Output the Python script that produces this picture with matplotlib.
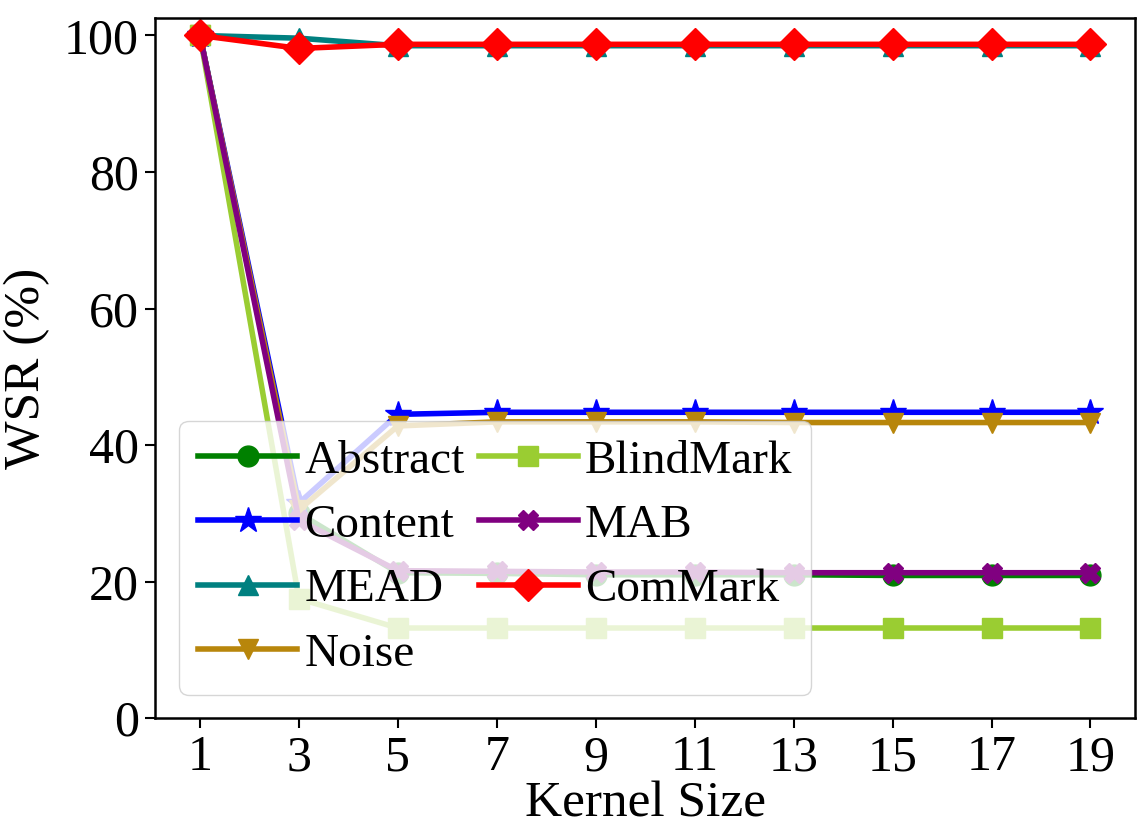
import matplotlib
matplotlib.use("Agg")
import matplotlib.pyplot as plt

plt.rcParams['font.family'] = 'serif'
plt.rcParams['font.serif'] = ['Liberation Serif', 'DejaVu Serif']
plt.rcParams['mathtext.fontset'] = 'stix'

kernel = [1, 3, 5, 7, 9, 11, 13, 15, 17, 19]
abstract = [100, 30.0, 21.3, 21.2, 21.0, 21.0, 21.0, 20.9, 20.9, 20.9]
content = [100, 31.5, 44.5, 44.8, 44.8, 44.8, 44.8, 44.8, 44.8, 44.8]
mead = [100, 99.6, 98.5, 98.5, 98.5, 98.5, 98.5, 98.5, 98.5, 98.5]
noise = [100, 30.5, 42.8, 43.4, 43.4, 43.4, 43.3, 43.3, 43.3, 43.3]
blindmark = [100, 17.5, 13.2, 13.2, 13.2, 13.2, 13.2, 13.2, 13.2, 13.2]
mab = [100, 29.0, 21.6, 21.5, 21.4, 21.4, 21.3, 21.3, 21.3, 21.3]
commark = [100, 98.1, 98.7, 98.7, 98.7, 98.7, 98.7, 98.7, 98.7, 98.7]

series = [
    ("Abstract", abstract, "green", "o"),
    ("Content", content, "blue", "*"),
    ("MEAD", mead, "teal", "^"),
    ("Noise", noise, "#B8860B", "v"),
    ("BlindMark", blindmark, "#9ACD32", "s"),
    ("MAB", mab, "purple", "X"),
    ("ComMark", commark, "red", "D"),
]

fig = plt.figure(figsize=(11.43, 8.36), dpi=100)
ax = fig.add_axes([0.136, 0.141, 0.857, 0.837])
for name, vals, col, mk in series:
    ms = {"*": 19, "D": 16}.get(mk, 15)
    ax.plot(kernel, vals, color=col, marker=mk, markersize=ms, linewidth=4, label=name)

ax.set_xticks(kernel)
ax.set_ylim(0, 102.5)
ax.set_yticks([0, 20, 40, 60, 80, 100])
ax.tick_params(labelsize=36, width=1.5, length=7, pad=5)
for s in ax.spines.values():
    s.set_linewidth(1.8)
ax.set_xlabel("Kernel Size", fontsize=37, labelpad=0)
ax.set_ylabel("WSR (%)", fontsize=37, labelpad=10)
ax.legend(ncol=2, loc="lower left", fontsize=34, handlelength=2.1,
          columnspacing=0.3, handletextpad=0.15, labelspacing=0.45, borderaxespad=0.5,
          borderpad=0.4)
fig.savefig("out.png", dpi=100)
